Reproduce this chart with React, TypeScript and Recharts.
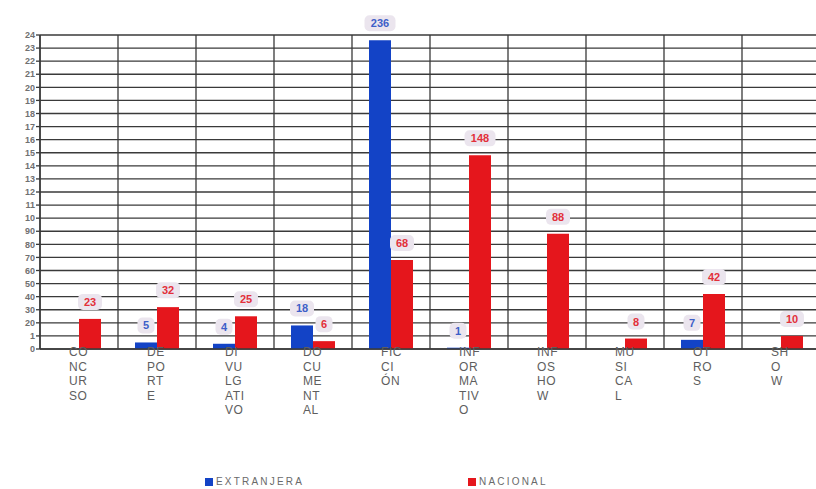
import React from "react";
import { BarChart, Bar, XAxis, YAxis, CartesianGrid, Legend, LabelList } from "recharts";

// Programme genres and how each tick label wraps into short lines
const categories = [
  "CONCURSO", "DEPORTE", "DIVULGATIVO", "DOCUMENTAL", "FICCIÓN",
  "INFORMATIVO", "INFOSHOW", "MUSICAL", "OTROS", "SHOW",
];
const categoryLines: string[][] = [
  ["CO", "NC", "UR", "SO"],
  ["DE", "PO", "RT", "E"],
  ["DI", "VU", "LG", "ATI", "VO"],
  ["DO", "CU", "ME", "NT", "AL"],
  ["FIC", "CI", "ÓN"],
  ["INF", "OR", "MA", "TIV", "O"],
  ["INF", "OS", "HO", "W"],
  ["MU", "SI", "CA", "L"],
  ["OT", "RO", "S"],
  ["SH", "O", "W"],
];

// Series values (number of programmes)
const extranjera: (number | null)[] = [0, 5, 4, 18, 236, 1, null, null, 7, null];
const nacional: number[] = [23, 32, 25, 6, 68, 148, 88, 8, 42, 10];

// Value axis ticks and the (clipped) labels printed beside them
const yTicks = [0, 10, 20, 30, 40, 50, 60, 70, 80, 90, 100, 110, 120, 130, 140, 150, 160, 170, 180, 190, 200, 210, 220, 230, 240];
const yTickLabels = ["0", "1", "20", "30", "40", "50", "60", "70", "80", "90", "10", "11", "12", "13", "14", "15", "16", "17", "18", "19", "20", "21", "22", "23", "24"];

const BLUE = "#1343c6";
const RED = "#e5161c";
const GRID = "#3a3a3a";
const FONT = "'Liberation Sans', Arial, sans-serif";

const data = categories.map((c, i) => ({
  name: c,
  extranjera: extranjera[i],
  nacional: nacional[i],
}));

const CategoryTick = (props: any) => {
  const { x, y, index } = props;
  const lines = categoryLines[index] || [];
  return (
    <g>
      {lines.map((t, i) => (
        <text
          key={i}
          x={x - 10}
          y={y + 3 + i * 14.5}
          textAnchor="start"
          dominantBaseline="central"
          fontFamily={FONT}
          fontSize={12}
          letterSpacing={0.6}
          fill="#5e5e5e"
        >
          {t}
        </text>
      ))}
    </g>
  );
};

const makeValueLabel = (color: string) => (props: any) => {
  const { x, y, width, value } = props;
  if (value === null || value === undefined) return null;
  const cx = x + width / 2;
  const cy = y - 17;
  const w = String(value).length * 7 + 10;
  return (
    <g>
      <rect x={cx - w / 2} y={cy - 8} width={w} height={16} rx={5} fill="#ebe5ee" />
      <text
        x={cx}
        y={cy}
        textAnchor="middle"
        dominantBaseline="central"
        fontFamily={FONT}
        fontSize={11}
        fontWeight="bold"
        fill={color}
      >
        {value}
      </text>
    </g>
  );
};

const LegendContent = () => (
  <div style={{ position: "relative", height: 16, fontFamily: FONT, fontSize: 10, letterSpacing: 2.2, color: "#6a6a6a" }}>
    <div style={{ position: "absolute", left: 205, top: 3, display: "flex", alignItems: "center" }}>
      <span style={{ display: "inline-block", width: 8, height: 8, background: BLUE, marginRight: 3 }} />
      <span>EXTRANJERA</span>
    </div>
    <div style={{ position: "absolute", left: 468, top: 3, display: "flex", alignItems: "center" }}>
      <span style={{ display: "inline-block", width: 8, height: 8, background: RED, marginRight: 3 }} />
      <span>NACIONAL</span>
    </div>
  </div>
);

export default function App() {
  return (
    <div style={{ position: "absolute", left: 0, top: 0, width: 816, height: 489, overflow: "hidden", background: "#fff" }}>
      <BarChart
        width={824}
        height={489}
        data={data}
        margin={{ top: 35, right: 4, bottom: 0, left: 0 }}
        barCategoryGap={17}
        barGap={0}
      >
        <CartesianGrid
          stroke={GRID}
          strokeWidth={1.3}
          verticalCoordinatesGenerator={({ offset }: any) =>
            categories.map((_, i) => offset.left + (i * offset.width) / categories.length).concat([offset.left + offset.width])
          }
        />
        <XAxis
          dataKey="name"
          height={124}
          interval={0}
          tick={<CategoryTick />}
          tickLine={false}
          tickSize={0}
          tickMargin={0}
          axisLine={{ stroke: GRID, strokeWidth: 1.3 }}
        />
        <YAxis
          width={40}
          domain={[0, 240]}
          ticks={yTicks}
          interval={0}
          tickFormatter={(v: number) => yTickLabels[yTicks.indexOf(v)]}
          tick={{ fontFamily: FONT, fontSize: 9, fill: "#707070", fontWeight: "bold" }}
          tickSize={4}
          tickMargin={1}
          tickLine={{ stroke: GRID, strokeWidth: 1.3 }}
          axisLine={{ stroke: GRID, strokeWidth: 1.5 }}
        />
        <Legend verticalAlign="bottom" height={16} content={<LegendContent />} wrapperStyle={{ left: 0, width: 816 }} />
        <Bar dataKey="extranjera" fill={BLUE} isAnimationActive={false}>
          <LabelList dataKey="extranjera" content={makeValueLabel("#3d5fc8")} />
        </Bar>
        <Bar dataKey="nacional" fill={RED} isAnimationActive={false}>
          <LabelList dataKey="nacional" content={makeValueLabel("#e2303a")} />
        </Bar>
      </BarChart>
    </div>
  );
}
